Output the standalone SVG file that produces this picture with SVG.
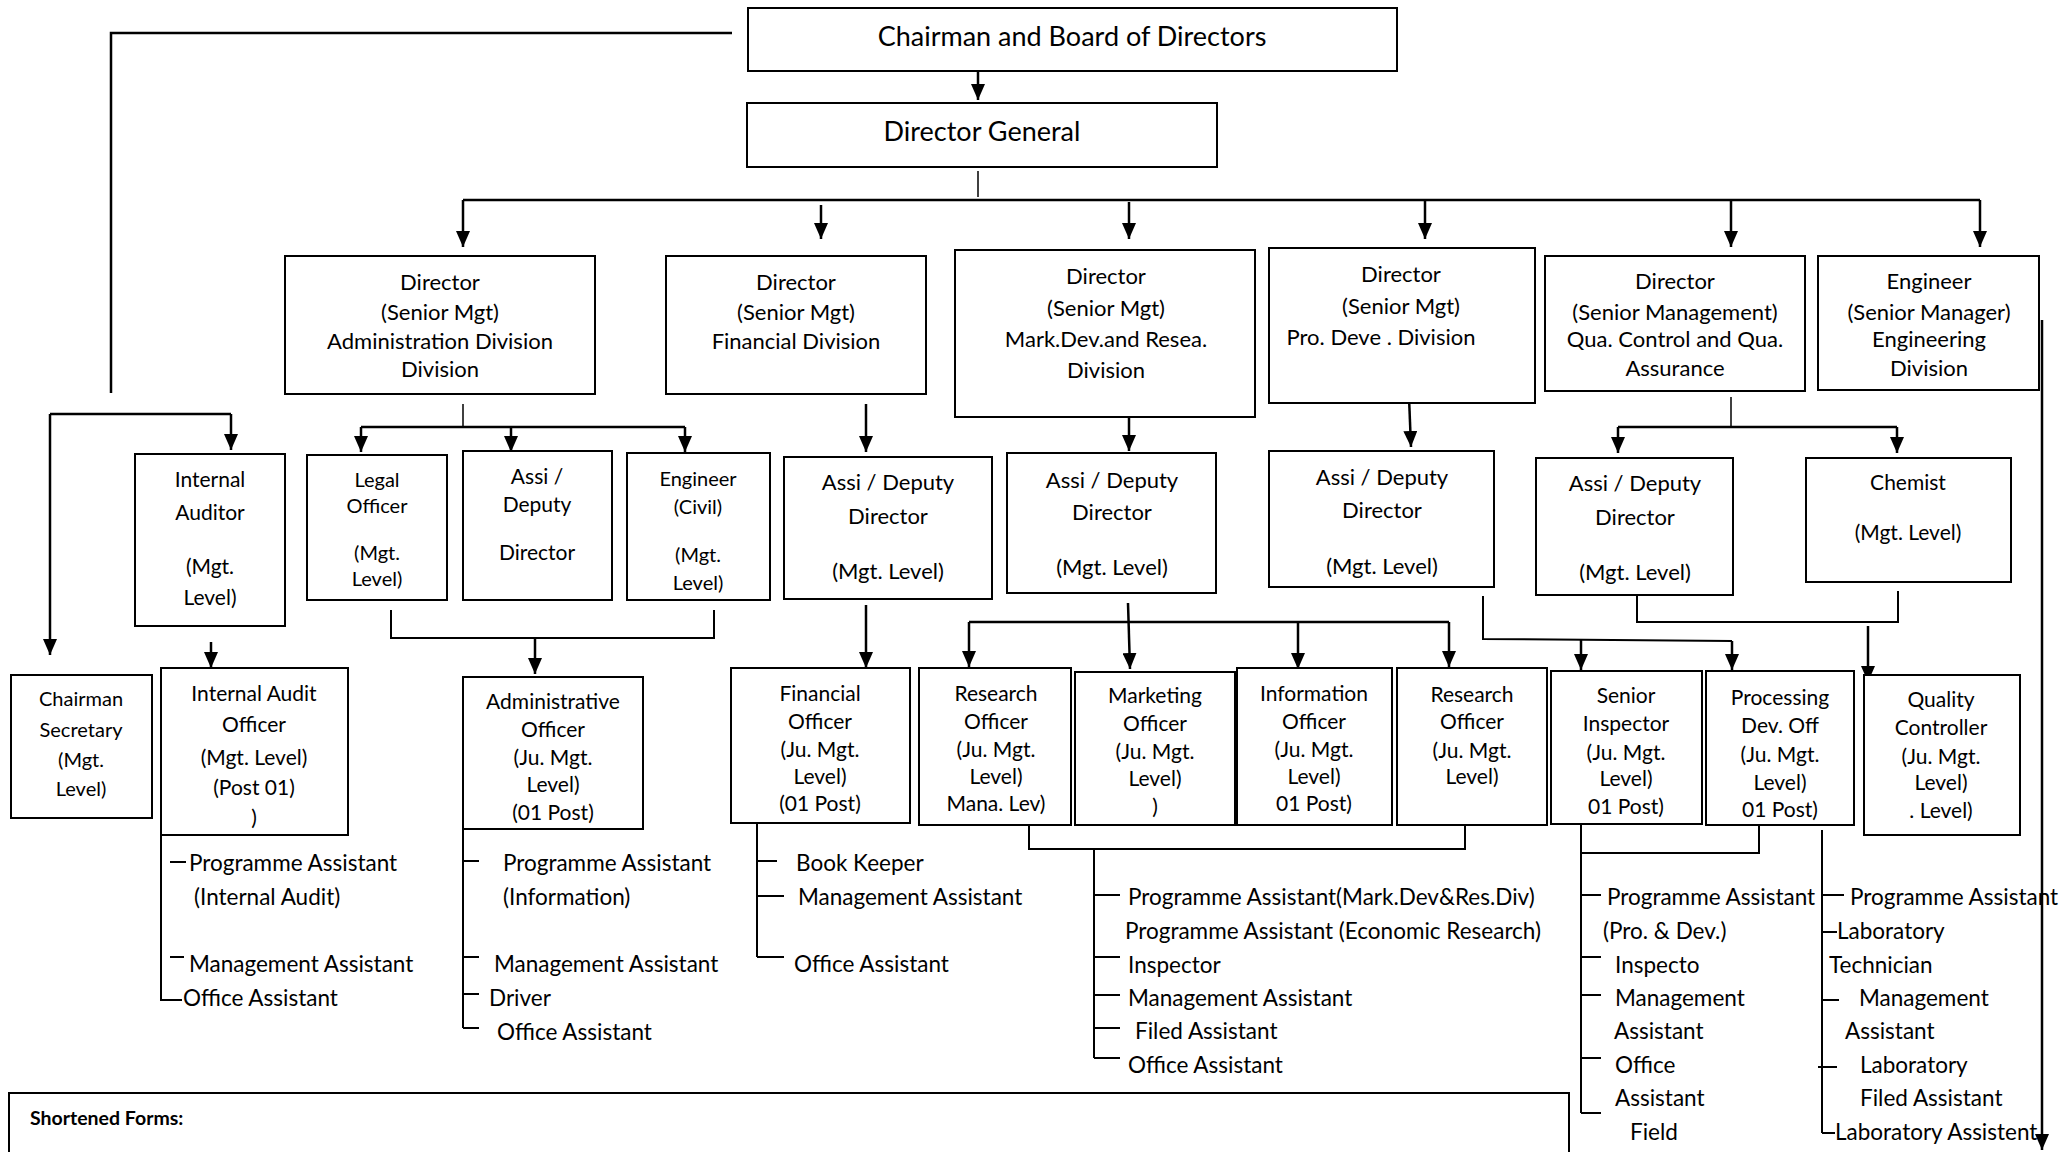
<svg xmlns="http://www.w3.org/2000/svg" width="2072" height="1152" viewBox="0 0 2072 1152">
<style>
.box{fill:#fff;stroke:#000;stroke-width:2}
.t{font-family:Lato,"Liberation Sans",sans-serif;font-size:22px;text-anchor:middle;fill:#000}
.s{font-size:21px}
.big{font-size:27px}
.l{font-family:Lato,"Liberation Sans",sans-serif;font-size:22.5px;fill:#000}
.c{stroke:#000;stroke-width:2.5;fill:none}
.a{stroke:#000;stroke-width:2.5;fill:none;marker-end:url(#ah)}
.tk{stroke:#000;stroke-width:2;fill:none}
</style>
<defs>
<marker id="ah" markerUnits="userSpaceOnUse" markerWidth="16" markerHeight="14" refX="16" refY="7" orient="auto">
<path d="M0,0 L16,7 L0,14 z" fill="#000"/>
</marker>
</defs>
<rect width="2072" height="1152" fill="#fff"/>

<g id="connectors">
<polyline class="c" points="732,33 111,33 111,393"/>
<line class="c" x1="50" y1="414" x2="231" y2="414"/>
<line class="a" x1="50" y1="414" x2="50" y2="655"/>
<line class="a" x1="231" y1="414" x2="231" y2="450"/>
<line class="a" x1="978" y1="71" x2="978" y2="100"/>
<line class="c" x1="978" y1="171" x2="978" y2="197" style="stroke-width:1.5"/>
<line class="c" x1="463" y1="200" x2="1980" y2="200"/>
<line class="a" x1="463" y1="200" x2="463" y2="247"/>
<line class="a" x1="821" y1="205" x2="821" y2="239"/>
<line class="a" x1="1129" y1="202" x2="1129" y2="239"/>
<line class="a" x1="1425" y1="200" x2="1425" y2="239"/>
<line class="a" x1="1731" y1="200" x2="1731" y2="247"/>
<line class="a" x1="1980" y1="200" x2="1980" y2="247"/>
<line class="c" x1="463" y1="404" x2="463" y2="427" style="stroke-width:1.5"/>
<line class="c" x1="361" y1="427" x2="685" y2="427"/>
<line class="a" x1="361" y1="427" x2="361" y2="452"/>
<line class="a" x1="511" y1="427" x2="511" y2="452"/>
<line class="a" x1="685" y1="427" x2="685" y2="452"/>
<polyline class="c" points="391,610 391,638 714,638 714,610" style="stroke-width:2"/>
<line class="a" x1="535" y1="638" x2="535" y2="674"/>
<line class="a" x1="211" y1="642" x2="211" y2="668"/>
<line class="a" x1="866" y1="404" x2="866" y2="452"/>
<line class="a" x1="866" y1="605" x2="866" y2="668"/>
<line class="a" x1="1129" y1="404" x2="1129" y2="451"/>
<line class="a" x1="1128" y1="603" x2="1130" y2="669"/>
<line class="c" x1="969" y1="622" x2="1449" y2="622"/>
<line class="a" x1="969" y1="622" x2="969" y2="667"/>
<line class="a" x1="1298" y1="622" x2="1298" y2="669"/>
<line class="a" x1="1449" y1="622" x2="1449" y2="667"/>
<line class="a" x1="1409" y1="397" x2="1411" y2="447"/>
<polyline class="c" points="1483,596 1483,639 1732,641" style="stroke-width:2"/>
<line class="a" x1="1581" y1="640" x2="1581" y2="670"/>
<line class="a" x1="1732" y1="641" x2="1732" y2="670"/>
<line class="c" x1="1731" y1="397" x2="1731" y2="427" style="stroke-width:1.5"/>
<line class="c" x1="1618" y1="427" x2="1897" y2="427"/>
<line class="a" x1="1618" y1="427" x2="1618" y2="453"/>
<line class="a" x1="1897" y1="427" x2="1897" y2="453"/>
<polyline class="c" points="1637,595 1637,622 1898,622 1898,591" style="stroke-width:2"/>
<line class="a" x1="1868" y1="626" x2="1868" y2="682"/>
<line class="a" x1="2042" y1="320" x2="2042" y2="1150"/>

<!-- staff lists -->
<polyline class="tk" points="161,835 161,1000 182,1000"/>
<line class="tk" x1="170" y1="862" x2="186" y2="862"/>
<line class="tk" x1="170" y1="957" x2="184" y2="957"/>
<line class="tk" x1="463" y1="829" x2="463" y2="1028"/>
<line class="tk" x1="463" y1="861" x2="479" y2="861"/>
<line class="tk" x1="463" y1="957" x2="479" y2="957"/>
<line class="tk" x1="463" y1="994" x2="479" y2="994"/>
<line class="tk" x1="463" y1="1028" x2="479" y2="1028"/>
<line class="tk" x1="757" y1="811" x2="757" y2="957"/>
<line class="tk" x1="757" y1="861" x2="777" y2="861"/>
<line class="tk" x1="757" y1="896" x2="784" y2="896"/>
<line class="tk" x1="757" y1="957" x2="784" y2="957"/>
<polyline class="c" points="1029,825 1029,849 1465,849 1465,823" style="stroke-width:2"/>
<line class="tk" x1="1094" y1="849" x2="1094" y2="1058"/>
<line class="tk" x1="1094" y1="895" x2="1120" y2="895"/>
<line class="tk" x1="1094" y1="957" x2="1120" y2="957"/>
<line class="tk" x1="1094" y1="995" x2="1120" y2="995"/>
<line class="tk" x1="1094" y1="1028" x2="1120" y2="1028"/>
<line class="tk" x1="1094" y1="1058" x2="1120" y2="1058"/>
<polyline class="c" points="1759,820 1759,853 1581,853" style="stroke-width:2"/>
<line class="tk" x1="1581" y1="820" x2="1581" y2="1113"/>
<line class="tk" x1="1581" y1="895" x2="1601" y2="895"/>
<line class="tk" x1="1581" y1="957" x2="1601" y2="957"/>
<line class="tk" x1="1581" y1="995" x2="1601" y2="995"/>
<line class="tk" x1="1581" y1="1058" x2="1601" y2="1058"/>
<line class="tk" x1="1581" y1="1113" x2="1601" y2="1113"/>
<line class="tk" x1="1822" y1="830" x2="1822" y2="1133"/>
<line class="tk" x1="1822" y1="895" x2="1844" y2="895"/>
<line class="tk" x1="1822" y1="932" x2="1837" y2="932"/>
<line class="tk" x1="1822" y1="1000" x2="1839" y2="1000"/>
<line class="tk" x1="1818" y1="1067" x2="1837" y2="1067"/>
<line class="tk" x1="1822" y1="1133" x2="1835" y2="1133"/>
</g>

<g id="chairman"><rect class="box" x="748" y="8" width="649" height="63"/><text class="t big" x="1072" y="46">Chairman and Board of Directors</text></g>
<g id="director-general"><rect class="box" x="747" y="103" width="470" height="64"/><text class="t big" x="982" y="141">Director General</text></g>

<g id="dir-admin"><rect class="box" x="285" y="256" width="310" height="138"/><text class="t"><tspan x="440" y="290">Director</tspan><tspan x="440" y="320">(Senior Mgt)</tspan><tspan x="440" y="349">Administration Division</tspan><tspan x="440" y="377">Division</tspan></text></g>
<g id="dir-fin"><rect class="box" x="666" y="256" width="260" height="138"/><text class="t"><tspan x="796" y="290">Director</tspan><tspan x="796" y="320">(Senior Mgt)</tspan><tspan x="796" y="349">Financial Division</tspan></text></g>
<g id="dir-mark"><rect class="box" x="955" y="250" width="300" height="167"/><text class="t"><tspan x="1106" y="284">Director</tspan><tspan x="1106" y="316">(Senior Mgt)</tspan><tspan x="1106" y="347">Mark.Dev.and Resea.</tspan><tspan x="1106" y="378">Division</tspan></text></g>
<g id="dir-pro"><rect class="box" x="1269" y="248" width="266" height="155"/><text class="t"><tspan x="1401" y="282">Director</tspan><tspan x="1401" y="314">(Senior Mgt)</tspan><tspan x="1381" y="345">Pro. Deve . Division</tspan></text></g>
<g id="dir-qua"><rect class="box" x="1545" y="256" width="260" height="135"/><text class="t"><tspan x="1675" y="289">Director</tspan><tspan x="1675" y="320">(Senior Management)</tspan><tspan x="1675" y="347">Qua. Control and Qua.</tspan><tspan x="1675" y="376">Assurance</tspan></text></g>
<g id="eng-div"><rect class="box" x="1818" y="256" width="221" height="134"/><text class="t"><tspan x="1929" y="289">Engineer</tspan><tspan x="1929" y="320">(Senior Manager)</tspan><tspan x="1929" y="347">Engineering</tspan><tspan x="1929" y="376">Division</tspan></text></g>

<g id="internal-auditor"><rect class="box" x="135" y="454" width="150" height="172"/><text class="t s"><tspan x="210" y="487">Internal</tspan><tspan x="210" y="520">Auditor</tspan><tspan x="210" y="574">(Mgt.</tspan><tspan x="210" y="605">Level)</tspan></text></g>
<g id="legal-officer"><rect class="box" x="307" y="455" width="140" height="145"/><text class="t" style="font-size:20px"><tspan x="377" y="487">Legal</tspan><tspan x="377" y="513">Officer</tspan><tspan x="377" y="560">(Mgt.</tspan><tspan x="377" y="586">Level)</tspan></text></g>
<g id="admin-assi"><rect class="box" x="463" y="451" width="149" height="149"/><text class="t s"><tspan x="537" y="484">Assi /</tspan><tspan x="537" y="512">Deputy</tspan><tspan x="537" y="560">Director</tspan></text></g>
<g id="eng-civil"><rect class="box" x="627" y="453" width="143" height="147"/><text class="t" style="font-size:20px"><tspan x="698" y="486">Engineer</tspan><tspan x="698" y="514">(Civil)</tspan><tspan x="698" y="562">(Mgt.</tspan><tspan x="698" y="590">Level)</tspan></text></g>
<g id="fin-assi"><rect class="box" x="784" y="457" width="208" height="142"/><text class="t"><tspan x="888" y="490">Assi / Deputy</tspan><tspan x="888" y="524">Director</tspan><tspan x="888" y="579">(Mgt. Level)</tspan></text></g>
<g id="mark-assi"><rect class="box" x="1007" y="453" width="209" height="140"/><text class="t"><tspan x="1112" y="488">Assi / Deputy</tspan><tspan x="1112" y="520">Director</tspan><tspan x="1112" y="575">(Mgt. Level)</tspan></text></g>
<g id="pro-assi"><rect class="box" x="1269" y="451" width="225" height="136"/><text class="t"><tspan x="1382" y="485">Assi / Deputy</tspan><tspan x="1382" y="518">Director</tspan><tspan x="1382" y="574">(Mgt. Level)</tspan></text></g>
<g id="qua-assi"><rect class="box" x="1536" y="458" width="197" height="137"/><text class="t"><tspan x="1635" y="491">Assi / Deputy</tspan><tspan x="1635" y="525">Director</tspan><tspan x="1635" y="580">(Mgt. Level)</tspan></text></g>
<g id="chemist"><rect class="box" x="1806" y="458" width="205" height="124"/><text class="t s"><tspan x="1908" y="490">Chemist</tspan><tspan x="1908" y="540">(Mgt. Level)</tspan></text></g>

<g id="chairman-secretary"><rect class="box" x="11" y="675" width="141" height="143"/><text class="t" style="font-size:20px"><tspan x="81" y="706">Chairman</tspan><tspan x="81" y="737">Secretary</tspan><tspan x="81" y="767">(Mgt.</tspan><tspan x="81" y="796">Level)</tspan></text></g>
<g id="internal-audit-officer"><rect class="box" x="161" y="668" width="187" height="167"/><text class="t s"><tspan x="254" y="701">Internal Audit</tspan><tspan x="254" y="732">Officer</tspan><tspan x="254" y="765">(Mgt. Level)</tspan><tspan x="254" y="795">(Post 01)</tspan><tspan x="254" y="825">)</tspan></text></g>
<g id="admin-officer"><rect class="box" x="463" y="677" width="180" height="152"/><text class="t s"><tspan x="553" y="709">Administrative</tspan><tspan x="553" y="737">Officer</tspan><tspan x="553" y="765">(Ju. Mgt.</tspan><tspan x="553" y="792">Level)</tspan><tspan x="553" y="820">(01 Post)</tspan></text></g>
<g id="financial-officer"><rect class="box" x="731" y="668" width="179" height="155"/><text class="t s"><tspan x="820" y="701">Financial</tspan><tspan x="820" y="729">Officer</tspan><tspan x="820" y="757">(Ju. Mgt.</tspan><tspan x="820" y="784">Level)</tspan><tspan x="820" y="811">(01 Post)</tspan></text></g>
<g id="research-officer-1"><rect class="box" x="919" y="668" width="152" height="157"/><text class="t s"><tspan x="996" y="701">Research</tspan><tspan x="996" y="729">Officer</tspan><tspan x="996" y="757">(Ju. Mgt.</tspan><tspan x="996" y="784">Level)</tspan><tspan x="996" y="811">Mana. Lev)</tspan></text></g>
<g id="marketing-officer"><rect class="box" x="1075" y="672" width="160" height="153"/><text class="t s"><tspan x="1155" y="703">Marketing</tspan><tspan x="1155" y="731">Officer</tspan><tspan x="1155" y="759">(Ju. Mgt.</tspan><tspan x="1155" y="786">Level)</tspan><tspan x="1155" y="814">)</tspan></text></g>
<g id="information-officer"><rect class="box" x="1237" y="668" width="155" height="157"/><text class="t s"><tspan x="1314" y="701">Information</tspan><tspan x="1314" y="729">Officer</tspan><tspan x="1314" y="757">(Ju. Mgt.</tspan><tspan x="1314" y="784">Level)</tspan><tspan x="1314" y="811">01 Post)</tspan></text></g>
<g id="research-officer-2"><rect class="box" x="1397" y="668" width="150" height="157"/><text class="t s"><tspan x="1472" y="702">Research</tspan><tspan x="1472" y="729">Officer</tspan><tspan x="1472" y="758">(Ju. Mgt.</tspan><tspan x="1472" y="784">Level)</tspan></text></g>
<g id="senior-inspector"><rect class="box" x="1551" y="671" width="151" height="153"/><text class="t s"><tspan x="1626" y="703">Senior</tspan><tspan x="1626" y="731">Inspector</tspan><tspan x="1626" y="760">(Ju. Mgt.</tspan><tspan x="1626" y="786">Level)</tspan><tspan x="1626" y="814">01 Post)</tspan></text></g>
<g id="processing-dev-off"><rect class="box" x="1706" y="671" width="148" height="154"/><text class="t s"><tspan x="1780" y="705">Processing</tspan><tspan x="1780" y="733">Dev. Off</tspan><tspan x="1780" y="762">(Ju. Mgt.</tspan><tspan x="1780" y="790">Level)</tspan><tspan x="1780" y="817">01 Post)</tspan></text></g>
<g id="quality-controller"><rect class="box" x="1864" y="675" width="156" height="160"/><text class="t s"><tspan x="1941" y="707">Quality</tspan><tspan x="1941" y="735">Controller</tspan><tspan x="1941" y="764">(Ju. Mgt.</tspan><tspan x="1941" y="790">Level)</tspan><tspan x="1941" y="818">. Level)</tspan></text></g>

<g id="list-internal-audit" class="l">
<text x="189" y="871">Programme Assistant</text>
<text x="194" y="905">(Internal Audit)</text>
<text x="189" y="972">Management Assistant</text>
<text x="183" y="1006">Office Assistant</text>
</g>
<g id="list-admin" class="l">
<text x="503" y="871">Programme Assistant</text>
<text x="503" y="905">(Information)</text>
<text x="494" y="972">Management Assistant</text>
<text x="489" y="1006">Driver</text>
<text x="497" y="1040">Office Assistant</text>
</g>
<g id="list-financial" class="l">
<text x="796" y="871">Book Keeper</text>
<text x="798" y="905">Management Assistant</text>
<text x="794" y="972">Office Assistant</text>
</g>
<g id="list-marketing" class="l">
<text x="1128" y="905">Programme Assistant(Mark.Dev&amp;Res.Div)</text>
<text x="1125" y="939">Programme Assistant (Economic Research)</text>
<text x="1128" y="973">Inspector</text>
<text x="1128" y="1006">Management Assistant</text>
<text x="1135" y="1039">Filed Assistant</text>
<text x="1128" y="1073">Office Assistant</text>
</g>
<g id="list-processing" class="l">
<text x="1607" y="905">Programme Assistant</text>
<text x="1603" y="939">(Pro. &amp; Dev.)</text>
<text x="1615" y="973">Inspecto</text>
<text x="1615" y="1006">Management</text>
<text x="1614" y="1039">Assistant</text>
<text x="1615" y="1073">Office</text>
<text x="1615" y="1106">Assistant</text>
<text x="1630" y="1140">Field</text>
</g>
<g id="list-quality" class="l">
<text x="1850" y="905">Programme Assistant</text>
<text x="1837" y="939">Laboratory</text>
<text x="1829" y="973">Technician</text>
<text x="1859" y="1006">Management</text>
<text x="1845" y="1039">Assistant</text>
<text x="1860" y="1073">Laboratory</text>
<text x="1860" y="1106">Filed Assistant</text>
<text x="1835" y="1140">Laboratory Assistent</text>
</g>

<g id="shortened-forms"><rect class="box" x="9" y="1093" width="1560" height="100"/><text x="30" y="1125" style="font-family:Lato,'Liberation Sans',sans-serif;font-size:19.5px;font-weight:bold">Shortened Forms:</text></g>
</svg>
